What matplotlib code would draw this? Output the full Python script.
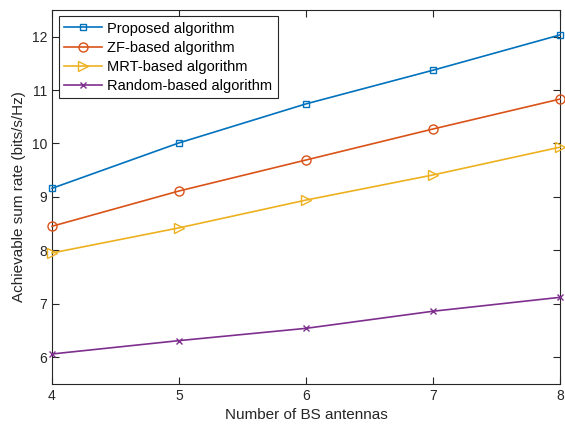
import numpy as np
import matplotlib.pyplot as plt

plt.rcParams['font.family'] = ['Liberation Sans', 'DejaVu Sans']

# Sum rate versus number of BS antennas
antennas = [4, 5, 6, 7, 8]
proposed = [9.16, 10.01, 10.74, 11.37, 12.03]
zf_based = [8.45, 9.11, 9.69, 10.27, 10.83]
mrt_based = [7.95, 8.42, 8.94, 9.41, 9.93]
random_based = [6.06, 6.31, 6.54, 6.86, 7.12]

labels = ['Proposed algorithm', 'ZF-based algorithm',
          'MRT-based algorithm', 'Random-based algorithm']
colors = ['#0072BD', '#D95319', '#EDB120', '#7E2F8E']
markers = ['s', 'o', '>', 'x']
sizes = [5, 6.5, 7, 4.5]

fig = plt.figure(figsize=(5.65, 4.28), dpi=100)
ax = fig.add_axes([0.092, 0.103, 0.899, 0.874])

for ys, lab, c, m, ms in zip([proposed, zf_based, mrt_based, random_based],
                             labels, colors, markers, sizes):
    ax.plot(antennas, ys, color=c, marker=m, markersize=ms,
            markerfacecolor='none', markeredgewidth=1.0, linewidth=1.2,
            label=lab, clip_on=False, zorder=3)

ax.set_xlim(4, 8)
ax.set_ylim(5.5, 12.5)
ax.set_xticks([4, 5, 6, 7, 8])
ax.set_yticks([6, 7, 8, 9, 10, 11, 12])
ax.set_xlabel('Number of BS antennas', fontsize=11, color='#262626')
ax.set_ylabel('Achievable sum rate (bits/s/Hz)', fontsize=11, color='#262626')

ax.tick_params(direction='in', top=True, right=True, length=5,
               labelsize=10, colors='#262626')
for s in ax.spines.values():
    s.set_color('#262626')
    s.set_linewidth(0.8)

leg = ax.legend(loc='upper left', fontsize=10.5, fancybox=False,
                edgecolor='#262626', framealpha=1, borderpad=0.35,
                labelspacing=0.35, handlelength=2.6, handletextpad=0.4,
                borderaxespad=0.45)
leg.get_frame().set_linewidth(0.8)

fig.savefig('out.png', dpi=100)
